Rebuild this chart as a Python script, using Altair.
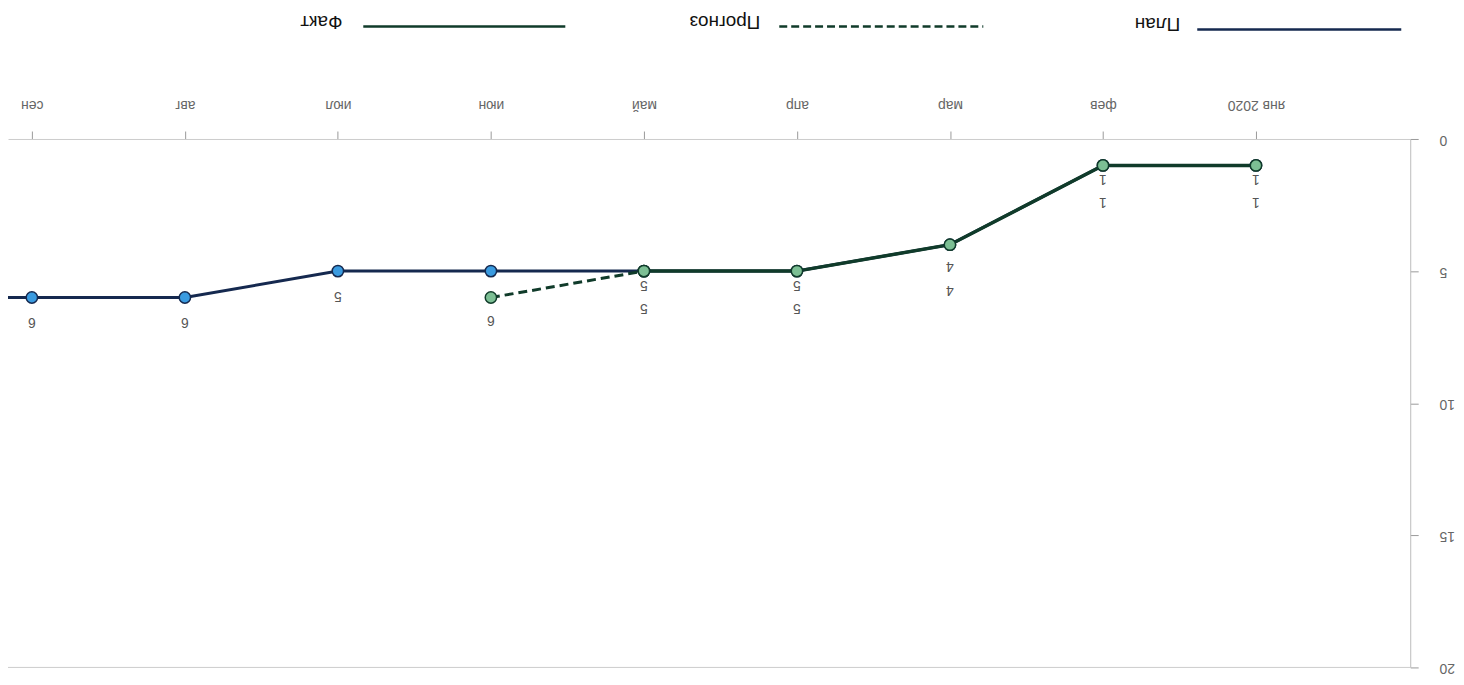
import json
import altair as alt
import pandas as pd

# ---- data ----
months = ['янв 2020', 'фев', 'мар', 'апр', 'май', 'июн', 'июл', 'авг', 'сен', 'окт']
plan_values = [1, 1, 4, 5, 5, 5, 5, 6, 6, 6]
fact_values = [1, 1, 4, 5, 5]
forecast_months = ['май', 'июн']
forecast_values = [5, 6]
y_ticks = [0, 5, 10, 15, 20]
legend_labels = ['План', 'Прогноз', 'Факт']

plan_df = pd.DataFrame({'i': list(range(len(plan_values))), 'value': plan_values})
fact_df = pd.DataFrame({'i': list(range(len(fact_values))), 'value': fact_values})
fc_df = pd.DataFrame({'i': [months.index(m) for m in forecast_months], 'value': forecast_values})
MAR = months.index('мар')
plan_early = plan_df[(plan_df['i'] <= 4) & (plan_df['i'] != MAR)]
plan_mar = plan_df[plan_df['i'] == MAR]
fact_main = fact_df[fact_df['i'] != MAR]
fact_mar = fact_df[fact_df['i'] == MAR]
plan_late = plan_df[(plan_df['i'] >= 6) & (plan_df['i'] <= 8)]
fc_label = fc_df[fc_df['i'] == months.index('июн')]
base_rule_df = pd.DataFrame({'v': [max(y_ticks)]})
one = pd.DataFrame({'k': [0]})

W, H = 1409, 531
FONT = 'Liberation Sans'
GREEN_LINE = '#103b2a'
GREEN_PT = '#7cbf94'
NAVY_LINE = '#15294f'
BLUE_PT = '#3a9be0'
LABEL_C = '#555555'

label_expr = json.dumps(months[:9], ensure_ascii=False) + '[datum.value]'

x_scale = alt.Scale(domain=[-1.008, 8.156], reverse=True, nice=False, zero=False)
y_scale = alt.Scale(domain=[0, 20], reverse=True, nice=False, zero=False)

x_axis = alt.Axis(orient='top', values=list(range(9)), labelExpr=label_expr, labelAngle=180,
                  labelAlign='center', labelBaseline='top', labelFontSize=14, labelColor='#666666',
                  labelFont=FONT, tickSize=8, tickColor='#999999', domainColor='#cccccc',
                  grid=False, title=None, labelPadding=20)
y_axis = alt.Axis(orient='right', values=y_ticks, labelAngle=180, labelAlign='right',
                  labelBaseline='middle', labelFontSize=14, labelColor='#666666', labelFont=FONT,
                  tickSize=8, tickColor='#999999', domainColor='#bbbbbb', grid=False,
                  title=None, labelPadding=21)

X = alt.X('i:Q', scale=x_scale, axis=x_axis)
Xn = alt.X('i:Q', scale=x_scale)
Y = alt.Y('value:Q', scale=y_scale, axis=y_axis)
Yn = alt.Y('value:Q', scale=y_scale)

axes_layer = alt.Chart(plan_df).mark_point(opacity=0).encode(x=X, y=Y)

bottom_rule = alt.Chart(base_rule_df).mark_rule(color='#cccccc', strokeWidth=1).encode(
    y=alt.Y('v:Q', scale=y_scale))

plan_line = alt.Chart(plan_df).mark_line(color=NAVY_LINE, strokeWidth=3, clip=True).encode(x=Xn, y=Yn)
fc_line = alt.Chart(fc_df).mark_line(color=GREEN_LINE, strokeWidth=3, strokeDash=[9, 5]).encode(x=Xn, y=Yn)
fact_line = alt.Chart(fact_df).mark_line(color=GREEN_LINE, strokeWidth=3.5).encode(x=Xn, y=Yn)

plan_pts = alt.Chart(plan_df).mark_circle(size=130, color=BLUE_PT, stroke=NAVY_LINE, strokeWidth=1.5,
                                          opacity=1, clip=True).encode(x=Xn, y=Yn)
fc_pts = alt.Chart(fc_df).mark_circle(size=130, color=GREEN_PT, stroke=GREEN_LINE, strokeWidth=1.5,
                                      opacity=1).encode(x=Xn, y=Yn)
fact_pts = alt.Chart(fact_df).mark_circle(size=130, color=GREEN_PT, stroke=GREEN_LINE, strokeWidth=1.5,
                                          opacity=1).encode(x=Xn, y=Yn)

def labels(df, dy):
    return alt.Chart(df).mark_text(angle=180, dy=dy, fontSize=14, color=LABEL_C, font=FONT,
                                   baseline='middle', align='center').encode(
        x=Xn, y=Yn, text=alt.Text('value:Q'))

label_layers = [
    labels(fact_main, -14), labels(fact_mar, -21),
    labels(plan_early, -37), labels(plan_mar, -46),
    labels(plan_late, -25), labels(fc_label, -23),
]

def leg_text(txt, x, y):
    return alt.Chart(one).mark_text(angle=180, align='left', baseline='middle', fontSize=19,
                                    color='#111111', font=FONT).encode(
        x=alt.value(x), y=alt.value(y), text=alt.value(txt))

def leg_rule(x1, x2, y, color, dash=None):
    kw = dict(color=color, strokeWidth=2.5)
    if dash:
        kw['strokeDash'] = dash
    return alt.Chart(one).mark_rule(**kw).encode(x=alt.value(x1), x2=alt.value(x2), y=alt.value(y))

legend = [
    leg_rule(1195, 1400, -110, NAVY_LINE), leg_text(legend_labels[0], 1178, -116),
    leg_rule(775, 980, -113, GREEN_LINE, [8, 4]), leg_text(legend_labels[1], 756, -118),
    leg_rule(357, 560, -113, GREEN_LINE), leg_text(legend_labels[2], 336, -118),
]

chart = alt.layer(
    axes_layer, bottom_rule, plan_line, fc_line, fact_line,
    *label_layers,
    plan_pts, fc_pts, fact_pts, *legend
).properties(
    width=W, height=H,
    background='white',
    autosize=alt.AutoSizeParams(type='none'),
    padding={'left': 0, 'top': 130, 'right': 46, 'bottom': 8},
).configure_view(stroke=None)

chart.save('out.html', embed_options={'renderer': 'svg', 'actions': False})
